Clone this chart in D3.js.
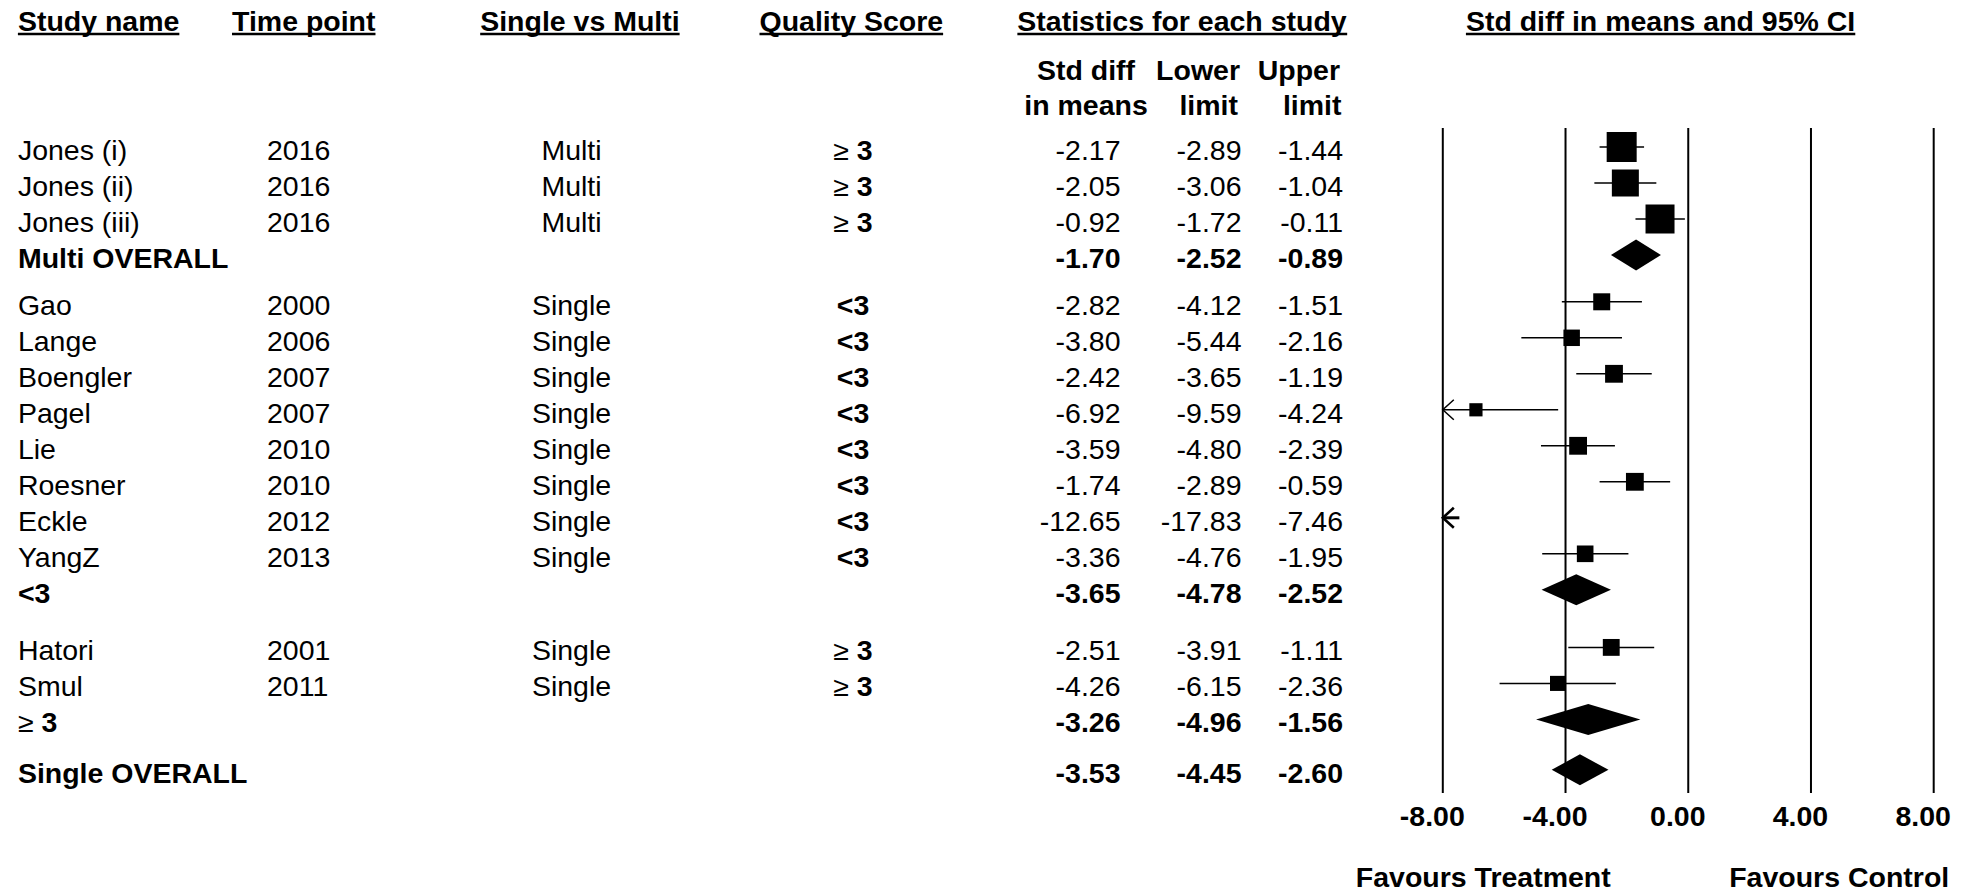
<!DOCTYPE html>
<html>
<head>
<meta charset="utf-8">
<script src="https://cdn.jsdelivr.net/npm/d3@7"></script>
<style>
  html, body { margin: 0; padding: 0; background: #fff; }
  svg { display: block; }
  text { font-family: "Liberation Sans", Arial, Helvetica, sans-serif; fill: #000; }
</style>
</head>
<body>
<svg id="chart" width="1973" height="894"></svg>
<script>
// ---------------- DATA ----------------
const studyNames = ["Jones (i)", "Jones (ii)", "Jones (iii)", "Multi OVERALL",
  "Gao", "Lange", "Boengler", "Pagel", "Lie", "Roesner", "Eckle", "YangZ", "<3",
  "Hatori", "Smul", "≥ 3", "Single OVERALL"];
const rowTypes = ["study", "study", "study", "summary",
  "study", "study", "study", "study", "study", "study", "study", "study", "summary",
  "study", "study", "summary", "summary"];
const timePoints = ["2016", "2016", "2016", "",
  "2000", "2006", "2007", "2007", "2010", "2010", "2012", "2013", "",
  "2001", "2011", "", ""];
const singleVsMulti = ["Multi", "Multi", "Multi", "",
  "Single", "Single", "Single", "Single", "Single", "Single", "Single", "Single", "",
  "Single", "Single", "", ""];
const qualityScores = ["≥ 3", "≥ 3", "≥ 3", "",
  "<3", "<3", "<3", "<3", "<3", "<3", "<3", "<3", "",
  "≥ 3", "≥ 3", "", ""];
const stdDiff = [-2.17, -2.05, -0.92, -1.70,
  -2.82, -3.80, -2.42, -6.92, -3.59, -1.74, -12.65, -3.36, -3.65,
  -2.51, -4.26, -3.26, -3.53];
const lowerLimit = [-2.89, -3.06, -1.72, -2.52,
  -4.12, -5.44, -3.65, -9.59, -4.80, -2.89, -17.83, -4.76, -4.78,
  -3.91, -6.15, -4.96, -4.45];
const upperLimit = [-1.44, -1.04, -0.11, -0.89,
  -1.51, -2.16, -1.19, -4.24, -2.39, -0.59, -7.46, -1.95, -2.52,
  -1.11, -2.36, -1.56, -2.60];
const relWeights = [35.2, 28.5, 32.9, null,
  11.3, 10.6, 12.4, 6.8, 12.4, 12.4, 2.3, 10.8, null,
  11.1, 8.9, null, null];
const axisTicks = [-8, -4, 0, 4, 8];
const favourLabels = ["Favours Treatment", "Favours Control"];

// ---------------- LAYOUT ----------------
const FS = 28.5, SY = 0.95;
const gapBefore = { 4: 0.3, 13: 0.6, 16: 0.4 };
const slots = [];
{ let s = 0; studyNames.forEach((_, i) => { if (i > 0) s += 1 + (gapBefore[i] || 0); slots.push(s); }); }

const y = d3.scaleLinear().domain([0, 1]).range([160, 196]);   // text baseline per row slot
const markOffset = -13;
const x = d3.scaleLinear().domain([-8, 8]).range([1442.8, 1933.7]);
const plotTop = 128, plotBottom = 793;

const loc = d3.formatLocale({ decimal: ".", thousands: ",", grouping: [3], currency: ["", ""], minus: "-" });
const fmt = loc.format(".2f");

const svg = d3.select("#chart");

function txt(g, px, py, str, opts = {}) {
  const t = g.append("text")
    .attr("transform", `translate(${px},${py}) scale(1,${SY})`)
    .attr("font-size", opts.size || FS)
    .attr("font-weight", opts.bold ? "bold" : "normal")
    .attr("text-anchor", opts.anchor || "start");
  if (str.startsWith("≥")) {
    t.append("tspan").attr("font-weight", "normal").text("≥");
    t.append("tspan").attr("font-weight", "bold").text(str.slice(1));
  } else {
    t.text(str);
  }
  return t;
}

// ---------------- HEADERS ----------------
const headers = [
  { label: "Study name", x: 17.9, anchor: "start" },
  { label: "Time point", x: 232, anchor: "start" },
  { label: "Single vs Multi", x: 579.9, anchor: "middle" },
  { label: "Quality Score", x: 851.3, anchor: "middle" },
  { label: "Statistics for each study", x: 1182, anchor: "middle" },
  { label: "Std diff in means and 95% CI", x: 1660.6, anchor: "middle" }
];
const hg = svg.append("g");
headers.forEach(h => {
  const t = txt(hg, h.x, 30.5, h.label, { bold: true, anchor: h.anchor });
  const bb = t.node().getBBox();
  hg.append("line").attr("x1", h.x + bb.x).attr("x2", h.x + bb.x + bb.width)
    .attr("y1", 34).attr("y2", 34).attr("stroke", "#000").attr("stroke-width", 2.6);
});
// sub headers
const colStd = 1120.5, colLow = 1241.5, colUp = 1343;
txt(hg, 1086, 79.5, "Std diff", { bold: true, anchor: "middle" });
txt(hg, 1086, 114.5, "in means", { bold: true, anchor: "middle" });
txt(hg, 1240, 79.5, "Lower", { bold: true, anchor: "end" });
txt(hg, 1238, 114.5, "limit", { bold: true, anchor: "end" });
txt(hg, 1340, 79.5, "Upper", { bold: true, anchor: "end" });
txt(hg, 1341.5, 114.5, "limit", { bold: true, anchor: "end" });

// ---------------- TABLE ROWS ----------------
const tg = svg.append("g");
studyNames.forEach((name, i) => {
  const by = y(slots[i]);
  const bold = rowTypes[i] === "summary";
  txt(tg, 17.9, by, name, { bold });
  if (timePoints[i]) txt(tg, 267, by, timePoints[i]);
  if (singleVsMulti[i]) txt(tg, 571.5, by, singleVsMulti[i], { anchor: "middle" });
  if (qualityScores[i]) txt(tg, 853, by, qualityScores[i], { anchor: "middle", bold: true });
  txt(tg, colStd, by, fmt(stdDiff[i]), { anchor: "end", bold });
  txt(tg, colLow, by, fmt(lowerLimit[i]), { anchor: "end", bold });
  txt(tg, colUp, by, fmt(upperLimit[i]), { anchor: "end", bold });
});

// ---------------- FOREST PLOT ----------------
const fg = svg.append("g");
fg.selectAll("line.grid").data(axisTicks).join("line")
  .attr("class", "grid")
  .attr("x1", d => x(d)).attr("x2", d => x(d))
  .attr("y1", plotTop).attr("y2", plotBottom)
  .attr("stroke", "#000").attr("stroke-width", 2);

fg.selectAll("g.tick").data(axisTicks).join(g => g.append("g"))
  .each(function (d) {
    txt(d3.select(this), x(d) - 10.5, 826, fmt(d), { bold: true, anchor: "middle" });
  });

const boxSide = d3.scaleSqrt().domain([0, 35.2]).range([0, 30]);
const [xmin, xmax] = x.domain();

studyNames.forEach((name, i) => {
  const cy = y(slots[i]) + markOffset;
  const lo = lowerLimit[i], hi = upperLimit[i], est = stdDiff[i];
  const offChart = hi < xmin + 1;
  if (rowTypes[i] === "study") {
    const l = Math.max(lo, xmin), h = Math.min(hi, xmax);
    if (h > l) {
      fg.append("line").attr("x1", x(l)).attr("x2", x(h)).attr("y1", cy).attr("y2", cy)
        .attr("stroke", "#000").attr("stroke-width", offChart ? 3 : 1.5);
    }
    if (lo < xmin) {
      const tx = x(xmin);
      fg.append("polyline")
        .attr("points", [[tx + 11, cy - 10], [tx, cy], [tx + 11, cy + 10]].map(p => p.join(",")).join(" "))
        .attr("fill", "none").attr("stroke", "#000").attr("stroke-width", offChart ? 2.6 : 1.5);
    }
    if (est >= xmin && est <= xmax) {
      const s = boxSide(relWeights[i]);
      fg.append("rect").attr("x", x(est) - s / 2).attr("y", cy - s / 2)
        .attr("width", s).attr("height", s).attr("fill", "#000");
    }
  } else {
    const hh = 15.5;
    fg.append("path")
      .attr("d", `M${x(lo)},${cy}L${x(est)},${cy - hh}L${x(hi)},${cy}L${x(est)},${cy + hh}Z`)
      .attr("fill", "#000");
  }
});

// favour labels
txt(fg, x(-6.68), 886.5, favourLabels[0], { bold: true, anchor: "middle" });
txt(fg, x(8) + 15.5, 886.5, favourLabels[1], { bold: true, anchor: "end" });
</script>
</body>
</html>
